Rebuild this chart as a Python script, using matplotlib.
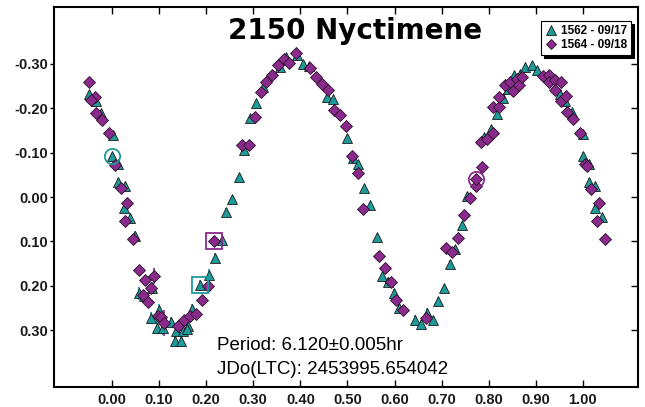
import matplotlib.pyplot as plt
import numpy as np

# 1562 - 09/17 (teal triangles)
tri_phase = [-0.049, -0.034, -0.023, 0.002, 0.000, 0.013, 0.012, 0.027, 0.025, 0.038,
             0.050, 0.057, 0.068, 0.086, 0.083, 0.099, 0.095, 0.109, 0.125, 0.133,
             0.137, 0.147, 0.150, 0.162, 0.159, 0.170, 0.187, 0.206, 0.219, 0.233,
             0.243, 0.255, 0.269, 0.280, 0.293, 0.306, 0.320, 0.356, 0.369, 0.394,
             0.406, 0.419, 0.456, 0.470, 0.500, 0.512, 0.523, 0.535, 0.548, 0.562,
             0.574, 0.586, 0.598, 0.610, 0.643, 0.656, 0.668, 0.681, 0.692, 0.705,
             0.717, 0.728, 0.743, 0.754, 0.790, 0.804, 0.818, 0.830, 0.841, 0.853,
             0.866, 0.878, 0.891, 0.903, 0.951, 0.963, 0.977, 1.001, 1.000, 1.014,
             1.012, 1.026, 1.025, 1.041]
tri_mag = [-0.232, -0.216, -0.190, -0.140, -0.093, -0.074, -0.034, -0.025, 0.024, 0.047,
           0.087, 0.217, 0.223, 0.204, 0.273, 0.255, 0.294, 0.296, 0.282, 0.325,
           0.301, 0.324, 0.301, 0.290, 0.298, 0.253, 0.199, 0.175, 0.137, 0.097,
           0.033, 0.004, -0.046, -0.107, -0.177, -0.212, -0.247, -0.293, -0.316, -0.319,
           -0.300, -0.296, -0.226, -0.220, -0.134, -0.087, -0.075, -0.020, 0.019, 0.091,
           0.179, 0.191, 0.217, 0.250, 0.276, 0.287, 0.262, 0.277, 0.235, 0.206,
           0.150, 0.118, 0.062, -0.002, -0.136, -0.154, -0.188, -0.224, -0.244, -0.274,
           -0.278, -0.293, -0.297, -0.287, -0.233, -0.217, -0.191, -0.141, -0.092, -0.075,
           -0.034, -0.025, 0.025, 0.046]
tri_err = [0.006, 0.006, 0.006, 0.006, 0.006, 0.006, 0.008, 0.008, 0.010, 0.010,
           0.010, 0.014, 0.014, 0.012, 0.014, 0.014, 0.014, 0.014, 0.012, 0.014,
           0.014, 0.014, 0.014, 0.014, 0.014, 0.012, 0.012, 0.012, 0.010, 0.010,
           0.008, 0.006, 0.006, 0.006, 0.006, 0.006, 0.006, 0.006, 0.006, 0.006,
           0.006, 0.006, 0.006, 0.006, 0.006, 0.008, 0.006, 0.008, 0.008, 0.008,
           0.008, 0.010, 0.010, 0.010, 0.010, 0.010, 0.012, 0.010, 0.010, 0.008,
           0.008, 0.008, 0.006, 0.006, 0.006, 0.006, 0.006, 0.006, 0.006, 0.006,
           0.006, 0.006, 0.006, 0.006, 0.006, 0.006, 0.006, 0.006, 0.010, 0.008,
           0.008, 0.008, 0.008, 0.008]

# 1564 - 09/18 (purple diamonds)
dia_phase = [-0.049, -0.036, -0.045, -0.033, -0.021, -0.007, 0.006, 0.019, 0.033, 0.028,
             0.045, 0.058, 0.071, 0.090, 0.084, 0.065, 0.077, 0.098, 0.104, 0.111,
             0.141, 0.153, 0.165, 0.179, 0.191, 0.204, 0.216, 0.277, 0.290, 0.303,
             0.316, 0.328, 0.340, 0.353, 0.366, 0.376, 0.390, 0.421, 0.433, 0.446,
             0.459, 0.471, 0.484, 0.497, 0.509, 0.522, 0.534, 0.567, 0.579, 0.592,
             0.604, 0.617, 0.667, 0.710, 0.723, 0.735, 0.747, 0.760, 0.772, 0.772,
             0.786, 0.784, 0.797, 0.809, 0.809, 0.822, 0.822, 0.834, 0.846, 0.852,
             0.860, 0.864, 0.871, 0.915, 0.927, 0.929, 0.940, 0.953, 0.941, 0.954,
             0.965, 0.967, 0.979, 0.993, 1.005, 1.009, 1.018, 1.035, 1.030, 1.047]
dia_mag = [-0.260, -0.226, -0.218, -0.190, -0.174, -0.145, -0.072, -0.020, 0.014, 0.055,
           0.095, 0.165, 0.187, 0.179, 0.206, 0.221, 0.237, 0.268, 0.270, 0.284,
           0.290, 0.277, 0.268, 0.264, 0.233, 0.200, 0.100, -0.118, -0.118, -0.181,
           -0.237, -0.258, -0.274, -0.297, -0.310, -0.301, -0.325, -0.291, -0.271, -0.255,
           -0.241, -0.195, -0.185, -0.161, -0.092, -0.053, 0.027, 0.134, 0.161, 0.191,
           0.231, 0.255, 0.272, 0.116, 0.123, 0.092, 0.041, 0.002, -0.025, -0.041,
           -0.068, -0.125, -0.130, -0.145, -0.203, -0.203, -0.225, -0.253, -0.260, -0.238,
           -0.266, -0.252, -0.271, -0.272, -0.274, -0.260, -0.263, -0.260, -0.241, -0.217,
           -0.227, -0.191, -0.175, -0.145, -0.075, -0.070, -0.019, 0.014, 0.055, 0.095]
dia_err = [0.005, 0.005, 0.005, 0.005, 0.005, 0.005, 0.006, 0.006, 0.008, 0.008,
           0.008, 0.008, 0.008, 0.018, 0.010, 0.010, 0.010, 0.010, 0.010, 0.030,
           0.010, 0.010, 0.008, 0.008, 0.008, 0.008, 0.010, 0.005, 0.005, 0.005,
           0.005, 0.005, 0.005, 0.005, 0.005, 0.005, 0.005, 0.005, 0.005, 0.005,
           0.005, 0.005, 0.005, 0.005, 0.006, 0.006, 0.006, 0.006, 0.006, 0.006,
           0.006, 0.006, 0.008, 0.006, 0.006, 0.006, 0.006, 0.006, 0.006, 0.010,
           0.005, 0.005, 0.005, 0.005, 0.005, 0.005, 0.005, 0.005, 0.005, 0.005,
           0.005, 0.005, 0.005, 0.005, 0.005, 0.005, 0.005, 0.005, 0.005, 0.005,
           0.005, 0.005, 0.005, 0.005, 0.005, 0.005, 0.005, 0.005, 0.005, 0.005]

# comparison markers (index into series)
tri_circle, tri_square = 4, 26
dia_circle, dia_square = 59, 26

x_ticks = [0.0, 0.1, 0.2, 0.3, 0.4, 0.5, 0.6, 0.7, 0.8, 0.9, 1.0]
y_ticks = [-0.3, -0.2, -0.1, 0.0, 0.1, 0.2, 0.3]

teal = '#1E9A9A'
purple = '#8A2A8C'

fig = plt.figure(figsize=(6.45, 4.07), dpi=100)
ax = fig.add_axes([54/645, 20/407, 584/645, 380/407])

ax.errorbar(tri_phase, tri_mag, yerr=tri_err, fmt='none', ecolor=teal, elinewidth=1.2, zorder=2)
ax.errorbar(dia_phase, dia_mag, yerr=dia_err, fmt='none', ecolor=purple, elinewidth=1.2, zorder=2)
ax.plot(tri_phase, tri_mag, '^', color=teal, ms=7.5, mec='#1a1a1a', mew=0.6, zorder=3, label='1562 - 09/17')
ax.plot(dia_phase, dia_mag, 'D', color=purple, ms=5.8, mec='#2a102a', mew=0.6, zorder=3, label='1564 - 09/18')

# comparison circles / squares
ax.plot(tri_phase[tri_circle], tri_mag[tri_circle], 'o', mfc='none', mec=teal, ms=11, mew=1.3, zorder=4)
ax.plot(tri_phase[tri_square], tri_mag[tri_square], 's', mfc='none', mec=teal, ms=12, mew=1.3, zorder=4)
ax.plot(dia_phase[dia_circle], dia_mag[dia_circle], 'o', mfc='none', mec=purple, ms=11, mew=1.3, zorder=4)
ax.plot(dia_phase[dia_square], dia_mag[dia_square], 's', mfc='none', mec=purple, ms=12, mew=1.3, zorder=4)

ax.set_xlim(-0.123, 1.117)
ax.set_ylim(0.428, -0.428)
ax.set_xticks(x_ticks)
ax.set_xticklabels(['%.2f' % v for v in x_ticks])
ax.set_yticks(y_ticks)
ax.set_yticklabels(['%.2f' % v for v in y_ticks])

for s in ax.spines.values():
    s.set_linewidth(1.5)
ax.tick_params(axis='x', direction='in', length=5, width=1, top=True, pad=4)
ax.tick_params(axis='y', direction='out', length=3, width=1, pad=1, right=True)
for lab in ax.get_xticklabels() + ax.get_yticklabels():
    lab.set_fontfamily('Liberation Sans')
    lab.set_fontweight('bold')
    lab.set_fontsize(10.5)
    lab.set_color('#1a1a1a')

# right ticks point inward
for t in ax.yaxis.get_major_ticks():
    t.tick2line.set_marker(0)
    t.tick2line.set_markersize(5)

ax.text(0.515, 0.937, '2150 Nyctimene', transform=ax.transAxes, ha='center', va='center',
        fontsize=20, fontweight='bold', family='DejaVu Sans')
ax.text(0.279, 0.108, 'Period: 6.120\u00b10.005hr', transform=ax.transAxes, ha='left', va='center',
        fontsize=13.5, family='Liberation Sans')
ax.text(0.279, 0.047, 'JDo(LTC): 2453995.654042', transform=ax.transAxes, ha='left', va='center',
        fontsize=13.5, family='Liberation Sans')

leg = ax.legend(loc='upper right', bbox_to_anchor=(0.988, 0.962), borderaxespad=0, fancybox=False,
                shadow={'color': 'black', 'alpha': 1}, edgecolor='black', framealpha=1,
                prop={'family': 'Liberation Sans', 'weight': 'bold', 'size': 8.5},
                handlelength=1.0, handletextpad=0.4, borderpad=0.3, labelspacing=0.2, markerscale=0.9)
leg.get_frame().set_linewidth(0.8)

fig.savefig('out.png', dpi=100)
